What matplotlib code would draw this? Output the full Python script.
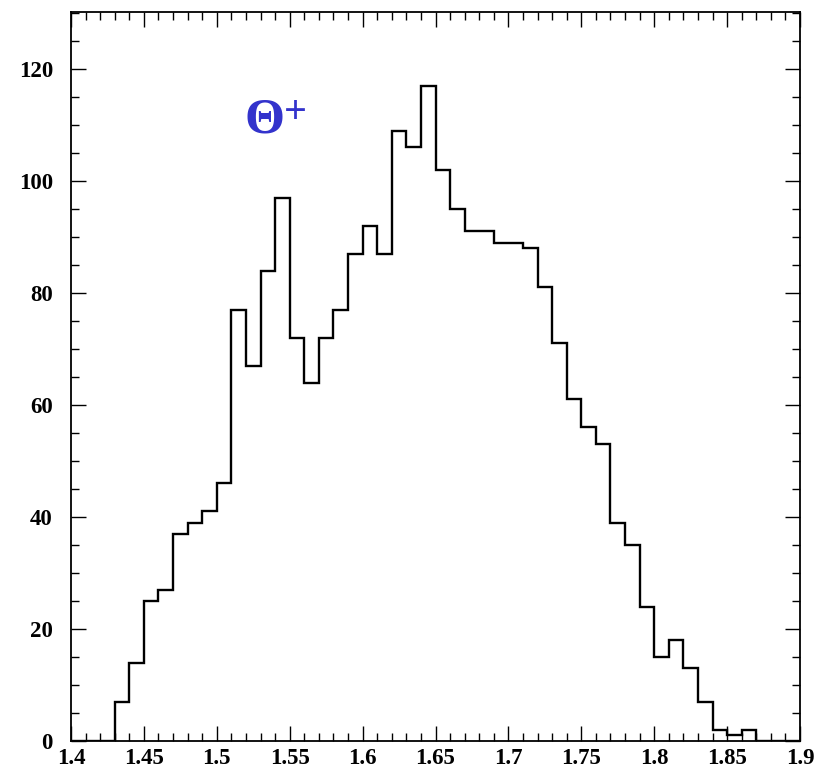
import numpy as np
import matplotlib
matplotlib.use("Agg")
import matplotlib.pyplot as plt
from matplotlib.ticker import MultipleLocator

# Bin edges (mass, GeV) and counts per 0.01 bin
bin_lo = 1.40
bin_hi = 1.90
bin_width = 0.01
counts = [0, 0, 0, 7, 14, 25, 27, 37, 39, 41,
          46, 77, 67, 84, 97, 72, 64, 72, 77, 87,
          92, 87, 109, 106, 117, 102, 95, 91, 91, 89,
          89, 88, 81, 71, 61, 56, 53, 39, 35, 24,
          15, 18, 13, 7, 2, 1, 2, 0, 0, 0]
x_ticks = [1.4, 1.45, 1.5, 1.55, 1.6, 1.65, 1.7, 1.75, 1.8, 1.85, 1.9]
x_tick_labels = ["1.4", "1.45", "1.5", "1.55", "1.6", "1.65", "1.7", "1.75", "1.8", "1.85", "1.9"]
y_ticks = [0, 20, 40, 60, 80, 100, 120]

edges = np.linspace(bin_lo, bin_hi, len(counts) + 1)

fig = plt.figure(figsize=(8.17, 7.70), dpi=100)
ax = fig.add_axes([71 / 817, 29 / 770, 729 / 817, 729 / 770])

ax.stairs(counts, edges, color="black", linewidth=1.7, baseline=0)

ax.set_xlim(bin_lo, bin_hi)
ax.set_ylim(0, 130.2)

ax.set_xticks(x_ticks)
ax.set_xticklabels(x_tick_labels)
ax.set_yticks(y_ticks)
ax.xaxis.set_minor_locator(MultipleLocator(0.01))
ax.yaxis.set_minor_locator(MultipleLocator(5))

for lab in ax.get_xticklabels() + ax.get_yticklabels():
    lab.set_fontfamily("Liberation Serif")
    lab.set_fontweight("bold")
    lab.set_fontsize(16.5)

ax.tick_params(which="both", direction="in", top=True, right=True, width=1.0, colors="black")
ax.tick_params(which="major", length=11, pad=5)
ax.tick_params(which="minor", length=5.5)
ax.tick_params(axis="y", which="major", pad=13)
for sp in ax.spines.values():
    sp.set_linewidth(1.3)

# Particle label
ax.text(1.5324, 108.6, "\u0398", color="#3333cc", fontfamily="Liberation Serif",
        fontweight="bold", fontsize=37, ha="center", va="baseline")
ax.text(1.5537, 110.4, "+", color="#3333cc", fontfamily="Liberation Serif",
        fontweight="bold", fontsize=29, ha="center", va="baseline")

fig.savefig("out.png", dpi=100)
